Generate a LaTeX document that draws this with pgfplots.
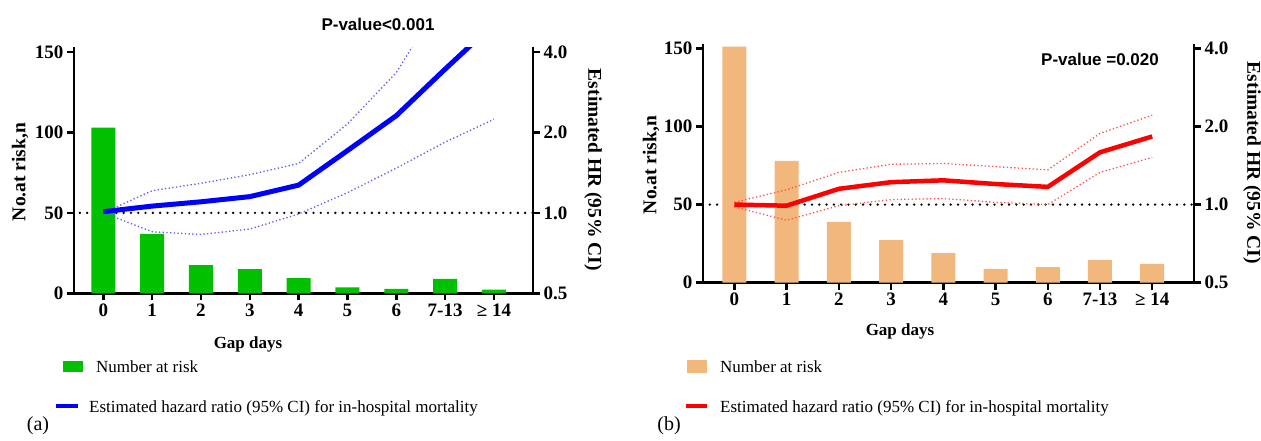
\documentclass[border=0pt]{standalone}
\usepackage{pgfplots}
\pgfplotsset{compat=1.18}
\usepackage{fontspec}
\setmainfont{Liberation Serif}
\newfontfamily\arialfont{Liberation Sans}
\definecolor{gbar}{RGB}{0,192,0}
\definecolor{obar}{RGB}{242,183,124}
\definecolor{ciblue}{RGB}{90,90,255}
\definecolor{cired}{RGB}{255,80,80}
\newcommand\tickfont{\fontsize{19}{19}\selectfont\bfseries}
\newcommand\labfont{\fontsize{19.5}{19.5}\selectfont\bfseries}
\newcommand\legfont{\fontsize{17}{17}\selectfont}

\pgfplotsset{
  mybase/.style={scale only axis, xmin=-0.6, xmax=8.8, clip=true,
    tick align=outside, major tick length=7pt,
    every tick/.append style={black, line width=2.5pt},
    axis line style={line width=2.5pt},
    tick label style={font=\tickfont},
    /pgf/number format/assume math mode=true},
  myleft/.style={mybase, axis y line*=left, axis x line*=bottom,
    ymin=0, ytick={0,50,100,150},
    xtick={0,1,2,3,4,5,6,7,8},
    xticklabels={0,1,2,3,4,5,6,7-13,{≥ 14}}},
  myright/.style={mybase, axis y line*=right, axis x line=none, xtick=\empty,
    ymin=0.5,
    ytick={0.5,1,2,4}, yticklabels={0.5,1.0,2.0,4.0}},
  refline/.style={black, line width=2.6pt, line cap=round, dash pattern=on 0pt off 7.3pt},
  cistyle/.style={line width=1.3pt, dash pattern=on 1.3pt off 2.4pt},
}

\begin{document}
\begin{tikzpicture}
\path[use as bounding box] (0pt,0pt) rectangle (1261pt,440pt);

% ---------------- panel (a) ----------------
\begin{axis}[myleft, ymax=152.8, at={(74pt,146.7pt)}, anchor=south west, width=459pt, height=245.8pt]
\addplot[refline] coordinates {(-0.48,50) (8.8,50)};
\addplot[ybar, bar width=24pt, fill=gbar, draw=none] coordinates
  {(0,103) (1,37) (2,17.5) (3,15) (4,9.5) (5,3.7) (6,2.7) (7,8.9) (8,2.3)};
\end{axis}
\begin{axis}[ymode=log, log basis y=2, myright, ymax=4.157, at={(74pt,146.7pt)}, anchor=south west, width=459pt, height=245.8pt]
\addplot[ciblue, cistyle] coordinates
  {(0,1.0) (1,1.21) (2,1.29) (3,1.39) (4,1.53) (5,2.15) (6,3.35) (7,6.6) (8,9.5)};
\addplot[ciblue, cistyle] coordinates
  {(0,1.0) (1,0.85) (2,0.83) (3,0.87) (4,0.99) (5,1.19) (6,1.47) (7,1.84) (8,2.24)};
\addplot[blue, line width=5pt] coordinates
  {(0,1.01) (1,1.06) (2,1.10) (3,1.15) (4,1.27) (5,1.71) (6,2.31) (7,3.45) (8,5.1)};
\end{axis}

% ---------------- panel (b) ----------------
\begin{axis}[myleft, ymax=152.56, at={(703pt,157.3pt)}, anchor=south west, width=491pt, height=238.4pt]
\addplot[refline] coordinates {(-0.47,50) (8.8,50)};
\addplot[ybar, bar width=24pt, fill=obar, draw=none] coordinates
  {(0,151) (1,78) (2,39) (3,27.3) (4,19) (5,8.8) (6,10) (7,14.5) (8,12)};
\end{axis}
\begin{axis}[ymode=log, log basis y=2, myright, ymax=4.145, at={(703pt,157.3pt)}, anchor=south west, width=491pt, height=238.4pt]
\addplot[cired, cistyle] coordinates
  {(0,1.02) (1,1.14) (2,1.33) (3,1.43) (4,1.44) (5,1.40) (6,1.36) (7,1.88) (8,2.21)};
\addplot[cired, cistyle] coordinates
  {(0,0.98) (1,0.87) (2,0.99) (3,1.045) (4,1.055) (5,1.02) (6,1.0) (7,1.33) (8,1.52)};
\addplot[red, line width=4.5pt] coordinates
  {(0,1.0) (1,0.99) (2,1.15) (3,1.22) (4,1.24) (5,1.20) (6,1.17) (7,1.59) (8,1.83)};
\end{axis}

% ---------------- texts ----------------
\node[rotate=90, font=\labfont] at (20pt,268pt) {No.at risk,n};
\node[rotate=-90, font=\labfont] at (593pt,270pt) {Estimated HR (95\% CI)};
\node[rotate=90, font=\labfont] at (651pt,275pt) {No.at risk,n};
\node[rotate=-90, font=\labfont] at (1252pt,277pt) {Estimated HR (95\% CI)};

\node[font=\arialfont\bfseries\fontsize{17}{17}\selectfont] at (378pt,416pt) {P-value<0.001};
\node[font=\arialfont\bfseries\fontsize{17}{17}\selectfont] at (1100pt,381pt) {P-value =0.020};

\node[anchor=base, font=\fontsize{17}{17}\selectfont\bfseries] at (248pt,91.7pt) {Gap days};
\node[anchor=base, font=\fontsize{17}{17}\selectfont\bfseries] at (900pt,105pt) {Gap days};

% legends
\fill[gbar] (63pt,68pt) rectangle (83pt,79pt);
\node[anchor=base west, inner sep=0pt, font=\legfont] at (96pt,67.3pt) {Number at risk};
\draw[blue, line width=4pt] (56pt,34pt) -- (78pt,34pt);
\node[anchor=base west, inner sep=0pt, font=\legfont] at (89pt,27.3pt) {Estimated hazard ratio (95\% CI) for in-hospital mortality};

\fill[obar] (687pt,67pt) rectangle (707pt,80pt);
\node[anchor=base west, inner sep=0pt, font=\legfont] at (720pt,67.3pt) {Number at risk};
\draw[red, line width=4pt] (686pt,34pt) -- (707pt,34pt);
\node[anchor=base west, inner sep=0pt, font=\legfont] at (720pt,27.3pt) {Estimated hazard ratio (95\% CI) for in-hospital mortality};

\node[font=\fontsize{20}{20}\selectfont] at (38pt,14pt) {(a)};
\node[font=\fontsize{20}{20}\selectfont] at (669pt,14pt) {(b)};
\end{tikzpicture}
\end{document}
